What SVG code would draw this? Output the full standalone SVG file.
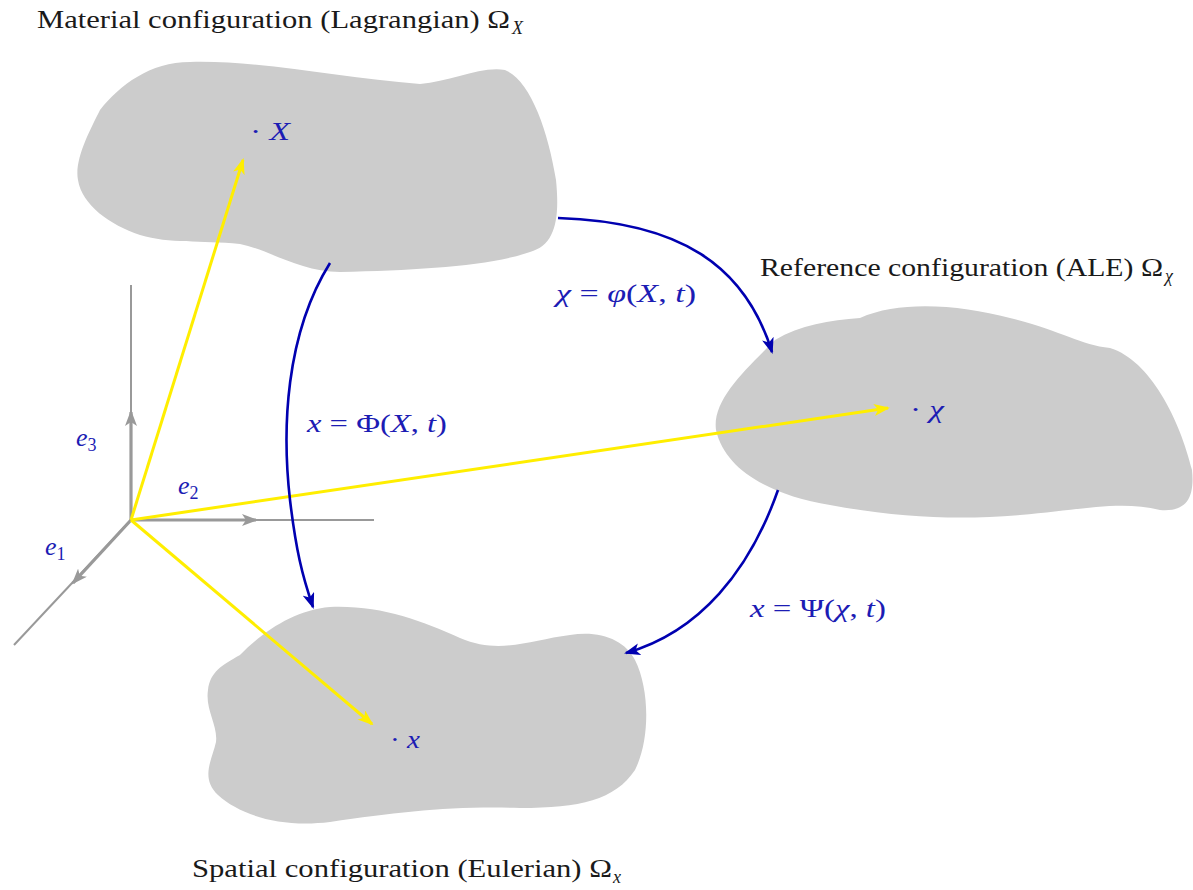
<svg xmlns="http://www.w3.org/2000/svg" width="1193" height="890" viewBox="0 0 1193 890">
<style>
.blob{fill:#cccccc;stroke:none}
.t{font-family:"Liberation Serif","DejaVu Serif",serif;font-size:25px;fill:#1a1a1a}
.m{font-family:"Liberation Serif","DejaVu Serif",serif;font-size:26px;fill:#1c1cb4}
.s{font-family:"Liberation Serif","DejaVu Serif",serif;font-size:18px;font-style:italic}
.i{font-style:italic}
.blue{fill:none;stroke:#0000b0;stroke-width:2.6}
.yel{fill:none;stroke:#ffee00;stroke-width:3}
.ax{fill:none;stroke:#999999;stroke-width:2}
.vec{fill:none;stroke:#999999;stroke-width:3.2}
</style>
<defs>
<marker id="ab" markerUnits="userSpaceOnUse" viewBox="0 0 16 12" refX="14" refY="6" markerWidth="16" markerHeight="12" orient="auto"><path d="M0,0 L16,6 L0,12 L4,6 z" fill="#0000b0"/></marker>
<marker id="ay" markerUnits="userSpaceOnUse" viewBox="0 0 16 12" refX="14" refY="6" markerWidth="16" markerHeight="12" orient="auto"><path d="M0,0 L16,6 L0,12 L4,6 z" fill="#ffee00"/></marker>
<marker id="ag" markerUnits="userSpaceOnUse" viewBox="0 0 16 12" refX="14" refY="6" markerWidth="16" markerHeight="12" orient="auto"><path d="M0,0 L16,6 L0,12 L4,6 z" fill="#999999"/></marker>
</defs>

<g id="material">
<path class="blob" d="M78,180 C74,160 90,130 100,110 C120,85 150,62 190,62 C260,60 340,78 420,84 C450,82 480,66 505,70 C530,80 548,130 556,180 C560,220 555,245 530,252 C490,266 420,270 340,272 C300,272 270,250 240,244 C200,240 170,244 140,235 C110,225 82,205 78,180 Z"/>
<text class="t" x="37" y="28" textLength="473" lengthAdjust="spacingAndGlyphs">Material configuration (Lagrangian) Ω</text>
<text class="s" x="512" y="34" fill="#1a1a1a">X</text>
<text class="m" x="250" y="140" textLength="40" lengthAdjust="spacingAndGlyphs">· <tspan class="i">X</tspan></text>
</g>

<g id="reference">
<path class="blob" d="M775,340 C800,325 830,320 860,318 C900,300 960,305 1010,318 C1060,330 1080,345 1110,348 C1150,360 1180,420 1192,470 C1195,500 1185,512 1160,510 C1120,500 1080,510 1020,515 C960,520 900,518 830,505 C770,495 725,470 716,430 C712,400 745,370 775,340 Z"/>
<text class="t" x="760" y="276" textLength="403" lengthAdjust="spacingAndGlyphs">Reference configuration (ALE) Ω</text>
<text class="s" x="1165" y="282" fill="#1a1a1a">χ</text>
<text class="m" x="910" y="418" textLength="34" lengthAdjust="spacingAndGlyphs">· <tspan class="i">χ</tspan></text>
</g>

<g id="spatial">
<path class="blob" d="M240,655 C265,630 295,610 330,607 C380,605 420,620 460,638 C500,655 530,640 570,635 C600,630 625,640 635,660 C650,690 650,740 635,770 C615,800 580,808 520,808 C450,806 400,812 330,822 C280,828 240,815 218,795 C200,778 212,760 216,742 C218,725 205,710 208,690 C210,672 222,665 240,655 Z"/>
<text class="t" x="192" y="877" textLength="420" lengthAdjust="spacingAndGlyphs">Spatial configuration (Eulerian) Ω</text>
<text class="s" x="613" y="883" fill="#1a1a1a">x</text>
<text class="m" x="390" y="748" textLength="30" lengthAdjust="spacingAndGlyphs">· <tspan class="i">x</tspan></text>
</g>

<g id="axes">
<line class="ax" x1="131" y1="285" x2="131" y2="520"/>
<line class="ax" x1="131" y1="520" x2="374" y2="520"/>
<line class="ax" x1="131" y1="520" x2="14" y2="645"/>
<line class="vec" x1="131" y1="520" x2="131" y2="412" marker-end="url(#ag)"/>
<line class="vec" x1="131" y1="520" x2="256" y2="520" marker-end="url(#ag)"/>
<line class="vec" x1="131" y1="520" x2="73" y2="583" marker-end="url(#ag)"/>
<text class="m" x="76" y="446"><tspan class="i">e</tspan><tspan font-size="18" dy="5">3</tspan></text>
<text class="m" x="178" y="494"><tspan class="i">e</tspan><tspan font-size="18" dy="5">2</tspan></text>
<text class="m" x="45" y="555"><tspan class="i">e</tspan><tspan font-size="18" dy="5">1</tspan></text>
</g>

<g id="connectors">
<line class="yel" x1="131" y1="520" x2="243" y2="160" marker-end="url(#ay)"/>
<line class="yel" x1="131" y1="520" x2="888" y2="408" marker-end="url(#ay)"/>
<line class="yel" x1="131" y1="520" x2="372" y2="724" marker-end="url(#ay)"/>
<path class="blue" d="M330,263 C285,335 282,430 290,500 C296,550 302,575 313,607" marker-end="url(#ab)"/>
<path class="blue" d="M558,218 C680,222 745,265 772,352" marker-end="url(#ab)"/>
<path class="blue" d="M778,490 C750,570 700,632 626,653" marker-end="url(#ab)"/>
<text class="m" x="556" y="302" textLength="140" lengthAdjust="spacingAndGlyphs"><tspan class="i">χ</tspan> = <tspan class="i">φ</tspan>(<tspan class="i">X</tspan>, <tspan class="i">t</tspan>)</text>
<text class="m" x="307" y="432" textLength="140" lengthAdjust="spacingAndGlyphs"><tspan class="i">x</tspan> = Φ(<tspan class="i">X</tspan>, <tspan class="i">t</tspan>)</text>
<text class="m" x="750" y="617" textLength="136" lengthAdjust="spacingAndGlyphs"><tspan class="i">x</tspan> = Ψ(<tspan class="i">χ</tspan>, <tspan class="i">t</tspan>)</text>
</g>
</svg>
